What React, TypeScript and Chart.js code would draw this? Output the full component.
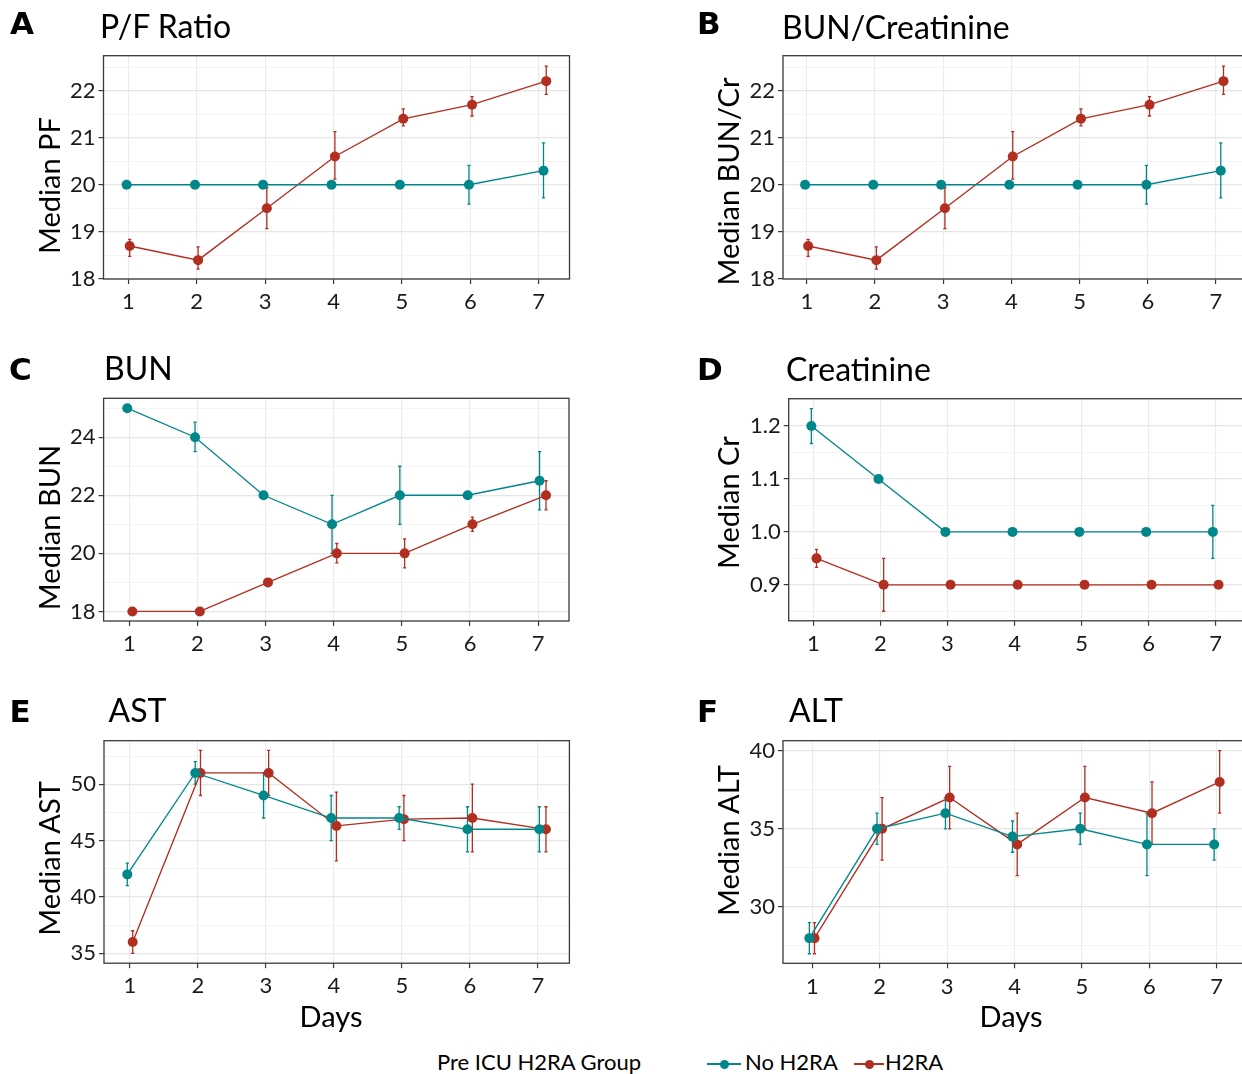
import React, { useEffect, useRef } from "react";
import { Chart, registerables } from "chart.js";

Chart.register(...registerables);

const TEAL = "#00878a";
const RED = "#b22e21";
const SERIES = ["No H2RA", "H2RA"];
const LEGEND_TITLE = "Pre ICU H2RA Group";
const X_TITLE = "Days";
const DAY_TICKS = [1, 2, 3, 4, 5, 6, 7];

// ---- A: P/F Ratio ----
const pfNoX = [0.975, 1.975, 2.97, 3.97, 4.97, 5.98, 7.07];
const pfNoMed = [20, 20, 20, 20, 20, 20, 20.3];
const pfNoLo = [20, 20, 20, 20, 20, 19.59, 19.72];
const pfNoHi = [20, 20, 20, 20, 20, 20.41, 20.89];
const pfH2X = [1.02, 2.02, 3.025, 4.02, 5.02, 6.025, 7.11];
const pfH2Med = [18.7, 18.4, 19.5, 20.6, 21.4, 21.7, 22.2];
const pfH2Lo = [18.48, 18.21, 19.07, 20.12, 21.25, 21.46, 21.92];
const pfH2Hi = [18.84, 18.68, 19.94, 21.13, 21.61, 21.87, 22.52];

// ---- B: BUN/Creatinine ----
const bcNoX = [0.975, 1.975, 2.97, 3.97, 4.97, 5.98, 7.07];
const bcNoMed = [20, 20, 20, 20, 20, 20, 20.3];
const bcNoLo = [20, 20, 20, 20, 20, 19.59, 19.72];
const bcNoHi = [20, 20, 20, 20, 20, 20.41, 20.89];
const bcH2X = [1.02, 2.02, 3.025, 4.02, 5.02, 6.025, 7.11];
const bcH2Med = [18.7, 18.4, 19.5, 20.6, 21.4, 21.7, 22.2];
const bcH2Lo = [18.48, 18.21, 19.07, 20.12, 21.25, 21.46, 21.92];
const bcH2Hi = [18.84, 18.68, 19.94, 21.13, 21.61, 21.87, 22.52];

// ---- C: BUN ----
const bunNoX = [0.97, 1.965, 2.97, 3.975, 4.97, 5.965, 7.02];
const bunNoMed = [25, 24, 22, 21, 22, 22, 22.5];
const bunNoLo = [25, 23.5, 22, 20, 21, 22, 21.5];
const bunNoHi = [25, 24.52, 22, 22, 23, 22, 23.5];
const bunH2X = [1.045, 2.035, 3.035, 4.045, 5.04, 6.035, 7.115];
const bunH2Med = [18, 18, 19, 20, 20, 21, 22];
const bunH2Lo = [18, 18, 19, 19.67, 19.5, 20.76, 21.5];
const bunH2Hi = [18, 18, 19, 20.34, 20.5, 21.25, 22.5];

// ---- D: Creatinine ----
const crNoX = [0.968, 1.97, 2.968, 3.97, 4.968, 5.965, 6.96];
const crNoMed = [1.2, 1.1, 1.0, 1.0, 1.0, 1.0, 1.0];
const crNoLo = [1.167, 1.1, 1.0, 1.0, 1.0, 1.0, 0.95];
const crNoHi = [1.233, 1.1, 1.0, 1.0, 1.0, 1.0, 1.05];
const crH2X = [1.045, 2.047, 3.045, 4.047, 5.045, 6.045, 7.045];
const crH2Med = [0.95, 0.9, 0.9, 0.9, 0.9, 0.9, 0.9];
const crH2Lo = [0.933, 0.85, 0.9, 0.9, 0.9, 0.9, 0.9];
const crH2Hi = [0.967, 0.95, 0.9, 0.9, 0.9, 0.9, 0.9];

// ---- E: AST ----
const astNoX = [0.96, 1.96, 2.965, 3.96, 4.96, 5.965, 7.023];
const astNoMed = [42, 51, 49, 47, 47, 46, 46];
const astNoLo = [41, 50, 47, 45, 46, 44, 44];
const astNoHi = [43, 52, 51, 49, 48, 48, 48];
const astH2X = [1.04, 2.037, 3.04, 4.037, 5.03, 6.037, 7.12];
const astH2Med = [36, 51, 51, 46.3, 46.9, 47, 46];
const astH2Lo = [35, 49, 49, 43.2, 45, 44, 44];
const astH2Hi = [37, 53, 53, 49.3, 49, 50, 48];

// ---- F: ALT ----
const altNoX = [0.956, 1.96, 2.975, 3.97, 4.975, 5.965, 6.962];
const altNoMed = [28, 35, 36, 34.5, 35, 34, 34];
const altNoLo = [27, 34, 35, 33.5, 34, 32, 33];
const altNoHi = [29, 36, 37, 35.5, 36, 36, 35];
const altH2X = [1.032, 2.035, 3.038, 4.04, 5.044, 6.04, 7.044];
const altH2Med = [28, 35, 37, 34, 37, 36, 38];
const altH2Lo = [27, 33, 35, 32, 35, 34, 36];
const altH2Hi = [29, 37, 39, 36, 39, 38, 40];

type Series = { x: number[]; med: number[]; lo: number[]; hi: number[] };
type Panel = {
  letter: string;
  title: string;
  yTitle: string;
  canvas: { left: number; top: number; w: number; h: number };
  area: { l: number; t: number; r: number; b: number };
  xMin: number;
  xMax: number;
  yMin: number;
  yMax: number;
  yStep: number;
  yMajor: number;
  yDec: number;
  no: Series;
  h2: Series;
  letterPos: [number, number];
  titlePos: [number, number];
  yTitlePos: [number, number];
  daysPos?: [number, number];
};

const LEFT_CANVAS = { left: 0, w: 600 };
const RIGHT_CANVAS = { left: 620, w: 640 };

const PANELS: Panel[] = [
  {
    letter: "A", title: "P/F Ratio", yTitle: "Median PF",
    canvas: { ...LEFT_CANVAS, top: 0, h: 330 },
    area: { l: 103.5, t: 55.7, r: 569.5, b: 279 },
    xMin: 0.637, xMax: 7.45, yMin: 18, yMax: 22.74, yStep: 0.5, yMajor: 1, yDec: 0,
    no: { x: pfNoX, med: pfNoMed, lo: pfNoLo, hi: pfNoHi },
    h2: { x: pfH2X, med: pfH2Med, lo: pfH2Lo, hi: pfH2Hi },
    letterPos: [10, 34.5], titlePos: [100, 38.5], yTitlePos: [59.5, 185.5],
  },
  {
    letter: "B", title: "BUN/Creatinine", yTitle: "Median BUN/Cr",
    canvas: { ...RIGHT_CANVAS, top: 0, h: 330 },
    area: { l: 783, t: 55.7, r: 1243, b: 279 },
    xMin: 0.651, xMax: 7.396, yMin: 18, yMax: 22.74, yStep: 0.5, yMajor: 1, yDec: 0,
    no: { x: bcNoX, med: bcNoMed, lo: bcNoLo, hi: bcNoHi },
    h2: { x: bcH2X, med: bcH2Med, lo: bcH2Lo, hi: bcH2Hi },
    letterPos: [697, 34], titlePos: [782, 39], yTitlePos: [738.6, 181],
  },
  {
    letter: "C", title: "BUN", yTitle: "Median BUN",
    canvas: { ...LEFT_CANVAS, top: 340, h: 330 },
    area: { l: 103.6, t: 398.3, r: 569, b: 621 },
    xMin: 0.623, xMax: 7.452, yMin: 17.67, yMax: 25.34, yStep: 1, yMajor: 2, yDec: 0,
    no: { x: bunNoX, med: bunNoMed, lo: bunNoLo, hi: bunNoHi },
    h2: { x: bunH2X, med: bunH2Med, lo: bunH2Lo, hi: bunH2Hi },
    letterPos: [9, 380], titlePos: [104, 380.5], yTitlePos: [59.3, 527],
  },
  {
    letter: "D", title: "Creatinine", yTitle: "Median Cr",
    canvas: { ...RIGHT_CANVAS, top: 340, h: 330 },
    area: { l: 788.7, t: 398.7, r: 1243, b: 620.8 },
    xMin: 0.63, xMax: 7.41, yMin: 0.832, yMax: 1.2516, yStep: 0.05, yMajor: 0.1, yDec: 1,
    no: { x: crNoX, med: crNoMed, lo: crNoLo, hi: crNoHi },
    h2: { x: crH2X, med: crH2Med, lo: crH2Lo, hi: crH2Hi },
    letterPos: [697, 380], titlePos: [786, 381.5], yTitlePos: [738.6, 502.5],
  },
  {
    letter: "E", title: "AST", yTitle: "Median AST",
    canvas: { ...LEFT_CANVAS, top: 680, h: 330 },
    area: { l: 104, t: 740.7, r: 569.4, b: 963.2 },
    xMin: 0.6175, xMax: 7.465, yMin: 34.12, yMax: 53.86, yStep: 2.5, yMajor: 5, yDec: 0,
    no: { x: astNoX, med: astNoMed, lo: astNoLo, hi: astNoHi },
    h2: { x: astH2X, med: astH2Med, lo: astH2Lo, hi: astH2Hi },
    letterPos: [9.5, 722.5], titlePos: [108.5, 722.5], yTitlePos: [59.3, 858],
    daysPos: [331, 1027],
  },
  {
    letter: "F", title: "ALT", yTitle: "Median ALT",
    canvas: { ...RIGHT_CANVAS, top: 680, h: 330 },
    area: { l: 783, t: 740.7, r: 1243, b: 963.3 },
    xMin: 0.565, xMax: 7.39, yMin: 26.39, yMax: 40.64, yStep: 2.5, yMajor: 5, yDec: 0,
    no: { x: altNoX, med: altNoMed, lo: altNoLo, hi: altNoHi },
    h2: { x: altH2X, med: altH2Med, lo: altH2Lo, hi: altH2Hi },
    letterPos: [697, 722.5], titlePos: [789, 722.5], yTitlePos: [738.6, 840],
    daysPos: [1011, 1027],
  },
];

const errorBarPlugin = {
  id: "errorBars",
  beforeDatasetsDraw(chart: any) {
    const { ctx } = chart;
    const xs = chart.scales.x;
    const ys = chart.scales.y;
    chart.data.datasets.forEach((ds: any) => {
      ctx.save();
      ctx.strokeStyle = ds.borderColor;
      ctx.lineWidth = 1.3;
      ds.data.forEach((pt: any, i: number) => {
        const lo = ds.errLo[i];
        const hi = ds.errHi[i];
        if (Math.abs(hi - lo) < 1e-9) return;
        const px = xs.getPixelForValue(pt.x);
        const y1 = ys.getPixelForValue(lo);
        const y2 = ys.getPixelForValue(hi);
        ctx.beginPath();
        ctx.moveTo(px, y1);
        ctx.lineTo(px, y2);
        ctx.moveTo(px - 1.6, y1);
        ctx.lineTo(px + 1.6, y1);
        ctx.moveTo(px - 1.6, y2);
        ctx.lineTo(px + 1.6, y2);
        ctx.stroke();
      });
      ctx.restore();
    });
  },
};

const borderPlugin = {
  id: "panelBorder",
  afterDatasetsDraw(chart: any) {
    const { ctx, chartArea: a } = chart;
    ctx.save();
    ctx.strokeStyle = "#3a3a3a";
    ctx.lineWidth = 1.3;
    ctx.strokeRect(a.left, a.top, a.right - a.left, a.bottom - a.top);
    ctx.restore();
  },
};

const TICK_FONT = { family: "Lato", size: 22 };

function makeConfig(p: Panel): any {
  const padT = p.area.t - p.canvas.top;
  const padR = p.canvas.left + p.canvas.w - p.area.r;
  const yW = p.area.l - p.canvas.left;
  const xH = p.canvas.top + p.canvas.h - p.area.b;
  const isMajor = (v: number) =>
    Math.abs(v / p.yMajor - Math.round(v / p.yMajor)) < 1e-6;
  const mk = (s: Series, label: string, color: string) => ({
    label,
    data: s.x.map((x, i) => ({ x, y: s.med[i] })),
    errLo: s.lo,
    errHi: s.hi,
    borderColor: color,
    backgroundColor: color,
    pointBackgroundColor: color,
    pointBorderColor: color,
    pointBorderWidth: 0,
    pointRadius: 5,
    borderWidth: 1.35,
    tension: 0,
    fill: false,
  });
  return {
    type: "line",
    data: { datasets: [mk(p.no, SERIES[0], TEAL), mk(p.h2, SERIES[1], RED)] },
    options: {
      animation: false,
      responsive: false,
      maintainAspectRatio: false,
      devicePixelRatio: 1,
      events: [],
      layout: { padding: { left: 0, top: padT, right: padR, bottom: 0 } },
      plugins: {
        legend: { display: false },
        tooltip: { enabled: false },
        title: { display: false },
      },
      scales: {
        x: {
          type: "linear",
          min: p.xMin,
          max: p.xMax,
          afterFit: (s: any) => {
            s.height = xH;
          },
          afterBuildTicks: (s: any) => {
            s.ticks = DAY_TICKS.map((v) => ({ value: v }));
          },
          ticks: {
            font: TICK_FONT,
            color: "#1a1a1a",
            padding: 5,
            autoSkip: false,
            maxRotation: 0,
            callback: (v: number) => String(v),
          },
          grid: {
            color: "#ebebeb",
            lineWidth: 1.1,
            drawTicks: true,
            tickLength: 5,
            tickColor: "#3a3a3a",
            tickWidth: 1.2,
          },
          border: { display: false },
        },
        y: {
          type: "linear",
          min: p.yMin,
          max: p.yMax,
          afterFit: (s: any) => {
            s.width = yW;
          },
          ticks: {
            stepSize: p.yStep,
            includeBounds: false,
            autoSkip: false,
            font: TICK_FONT,
            color: "#1a1a1a",
            padding: 3,
            callback: (v: number) => (isMajor(v) ? Number(v).toFixed(p.yDec) : ""),
          },
          grid: {
            color: (c: any) => (c.tick && isMajor(c.tick.value) ? "#e6e6e6" : "#f1f1f1"),
            lineWidth: (c: any) => (c.tick && isMajor(c.tick.value) ? 1.2 : 0.8),
            drawTicks: true,
            tickLength: 5,
            tickColor: (c: any) =>
              c.tick && isMajor(c.tick.value) ? "#3a3a3a" : "rgba(0,0,0,0)",
            tickWidth: 1.2,
          },
          border: { display: false },
        },
      },
    },
    plugins: [errorBarPlugin, borderPlugin],
  };
}

function PanelChart({ p }: { p: Panel }) {
  const ref = useRef<HTMLCanvasElement | null>(null);
  useEffect(() => {
    if (!ref.current) return;
    const chart = new Chart(ref.current, makeConfig(p));
    return () => chart.destroy();
  }, [p]);
  return (
    <canvas
      ref={ref}
      width={p.canvas.w}
      height={p.canvas.h}
      style={{
        position: "absolute",
        left: p.canvas.left,
        top: p.canvas.top,
        width: p.canvas.w,
        height: p.canvas.h,
      }}
    />
  );
}

// text placed by baseline, line-height = font size
const LATO_BASE = 0.887;
const DEJAVU_BASE = 0.846;

function Txt(props: {
  x: number;
  y: number;
  size: number;
  text: string;
  family?: string;
  weight?: string | number;
  base?: number;
  align?: "left" | "center";
}) {
  const { x, y, size, text } = props;
  const family = props.family || "Lato";
  const base = props.base ?? LATO_BASE;
  const center = props.align === "center";
  const W = 600;
  return (
    <div
      style={{
        position: "absolute",
        left: center ? x - W / 2 : x,
        top: y - base * size,
        width: center ? W : undefined,
        textAlign: center ? "center" : "left",
        fontSize: size,
        lineHeight: `${size}px`,
        fontFamily: family,
        fontWeight: props.weight || "normal",
        whiteSpace: "nowrap",
        color: "#000",
      }}
    >
      {text}
    </div>
  );
}

function VTxt({ x, y, size, text }: { x: number; y: number; size: number; text: string }) {
  // x = baseline position (right side of rotated glyphs), y = vertical centre
  const W = 400;
  const cx = x - (LATO_BASE - 0.5) * size;
  return (
    <div
      style={{
        position: "absolute",
        left: cx - W / 2,
        top: y - size / 2,
        width: W,
        height: size,
        textAlign: "center",
        fontSize: size,
        lineHeight: `${size}px`,
        fontFamily: "Lato",
        whiteSpace: "nowrap",
        color: "#000",
        transform: "rotate(-90deg)",
        transformOrigin: "50% 50%",
      }}
    >
      {text}
    </div>
  );
}

function LegendKey({ x, y, w, color }: { x: number; y: number; w: number; color: string }) {
  return (
    <>
      <div
        style={{
          position: "absolute",
          left: x,
          top: y - 0.75,
          width: w,
          height: 1.5,
          background: color,
        }}
      />
      <div
        style={{
          position: "absolute",
          left: x + w / 2 - 4.5,
          top: y - 4.5,
          width: 9,
          height: 9,
          borderRadius: "50%",
          background: color,
        }}
      />
    </>
  );
}

export default function App() {
  return (
    <div
      style={{
        position: "absolute",
        left: 0,
        top: 0,
        width: 1242,
        height: 1074,
        overflow: "hidden",
        background: "#fff",
      }}
    >
      {PANELS.map((p) => (
        <PanelChart key={p.letter} p={p} />
      ))}
      {PANELS.map((p) => (
        <React.Fragment key={"t" + p.letter}>
          <Txt
            x={p.letterPos[0]}
            y={p.letterPos[1]}
            size={31}
            text={p.letter}
            family="DejaVu Sans"
            weight="bold"
            base={DEJAVU_BASE}
          />
          <Txt x={p.titlePos[0]} y={p.titlePos[1]} size={32} text={p.title} />
          <VTxt x={p.yTitlePos[0]} y={p.yTitlePos[1]} size={29} text={p.yTitle} />
          {p.daysPos && (
            <Txt x={p.daysPos[0]} y={p.daysPos[1]} size={29} text={X_TITLE} align="center" />
          )}
        </React.Fragment>
      ))}
      <Txt x={437} y={1071} size={22} text={LEGEND_TITLE} />
      <LegendKey x={707} y={1064} w={34} color={TEAL} />
      <Txt x={745} y={1071} size={22} text={SERIES[0]} />
      <LegendKey x={854} y={1064} w={30} color={RED} />
      <Txt x={885} y={1071} size={22} text={SERIES[1]} />
    </div>
  );
}
